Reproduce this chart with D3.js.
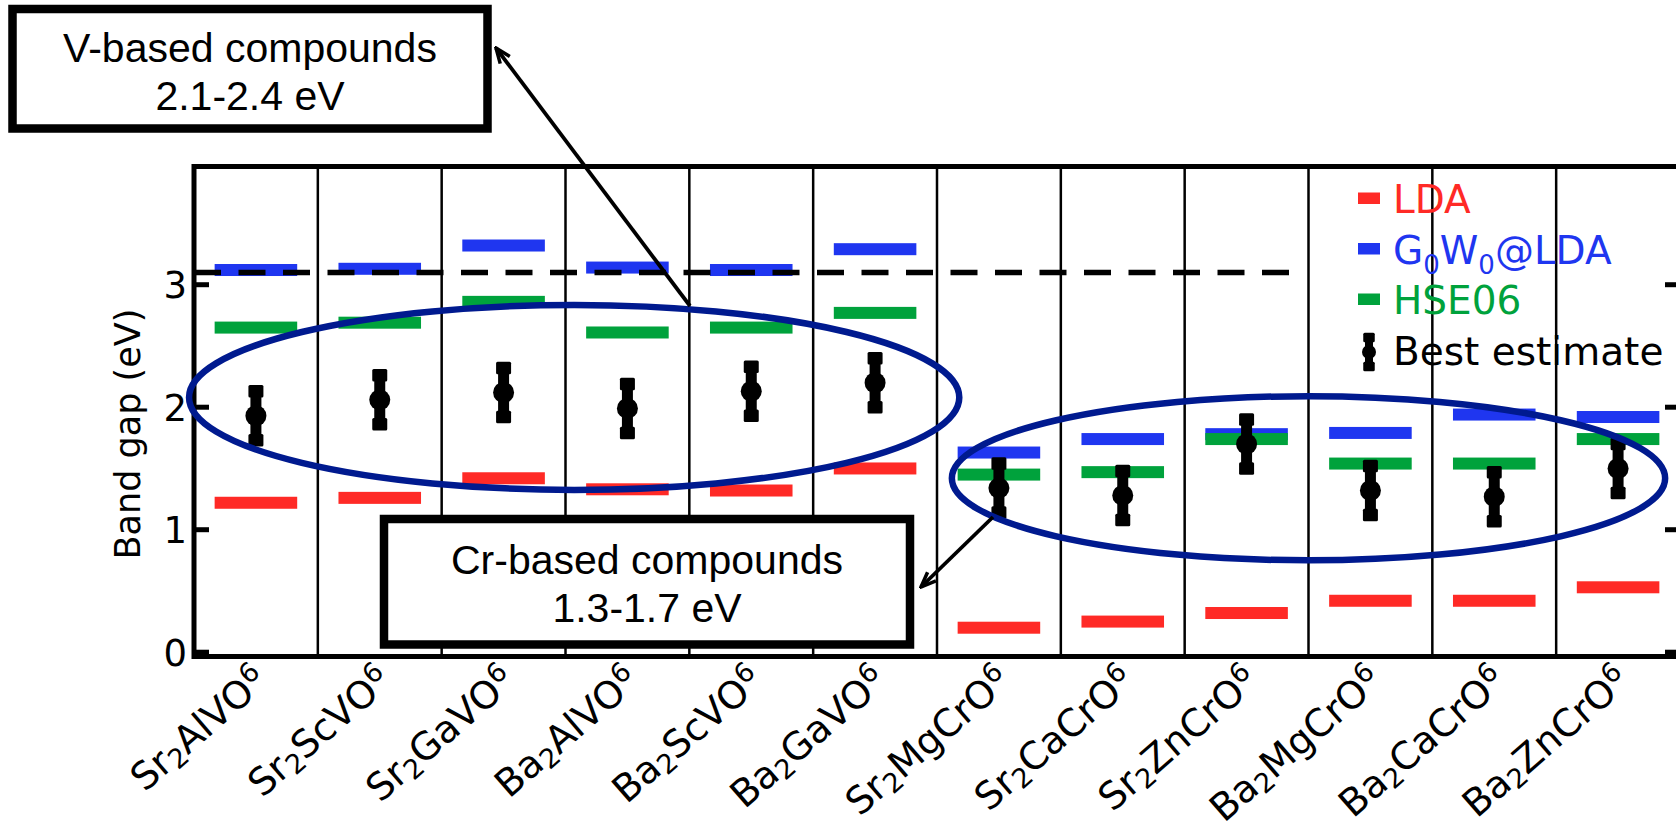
<!DOCTYPE html>
<html>
<head>
<meta charset="utf-8">
<script src="https://cdn.jsdelivr.net/npm/d3@7"></script>
<style>
  html, body { margin: 0; padding: 0; background: #fff; }
  svg { display: block; }
</style>
</head>
<body>
<div id="chart"></div>
<script>
// ---- data ----
var compounds = ["Sr2AlVO6", "Sr2ScVO6", "Sr2GaVO6", "Ba2AlVO6", "Ba2ScVO6", "Ba2GaVO6",
                 "Sr2MgCrO6", "Sr2CaCrO6", "Sr2ZnCrO6", "Ba2MgCrO6", "Ba2CaCrO6", "Ba2ZnCrO6"];
var lda     = [1.22, 1.26, 1.42, 1.33, 1.32, 1.50, 0.20, 0.25, 0.32, 0.42, 0.42, 0.53];
var gw      = [3.12, 3.13, 3.32, 3.14, 3.12, 3.29, 1.63, 1.74, 1.78, 1.79, 1.94, 1.92];
var hse     = [2.65, 2.69, 2.86, 2.61, 2.65, 2.77, 1.45, 1.47, 1.74, 1.54, 1.54, 1.74];
var best    = [1.93, 2.06, 2.12, 1.99, 2.13, 2.20, 1.34, 1.28, 1.70, 1.32, 1.27, 1.50];
var bestErr = [0.20, 0.20, 0.20, 0.20, 0.20, 0.20, 0.20, 0.20, 0.20, 0.20, 0.20, 0.20];
var yTicks = [0, 1, 2, 3];
var refLine = 3.1;

var colors = {lda: "#ff2a26", gw: "#1f36f0", hse: "#00a23c"};

// ---- layout ----
var W = 1676, H = 833;
var plotLeft = 194, plotRight = 1680, plotTop = 166.5, plotBottom = 656.5;
var axisFont = "'DejaVu Sans', sans-serif";
var boxFont = "'Liberation Sans', Arial, sans-serif";

var svg = d3.select("#chart").append("svg")
    .attr("width", W)
    .attr("height", H);

var x = d3.scaleBand().domain(compounds).range([plotLeft, plotRight]).padding(0);
var y = d3.scaleLinear().domain([-0.035, 3.965]).range([plotBottom, plotTop]);
var bw = x.bandwidth();
// position in "band units" (0 = left axis)
function xu(u) { return plotLeft + u * x.step(); }

svg.append("defs").append("marker")
    .attr("id", "head")
    .attr("markerUnits", "userSpaceOnUse")
    .attr("viewBox", "-16 -8 18 16")
    .attr("markerWidth", 18).attr("markerHeight", 16)
    .attr("refX", 0).attr("refY", 0)
    .attr("orient", "auto")
    .append("path")
    .attr("d", "M-15,-6 L0,0 L-15,6")
    .attr("fill", "none")
    .attr("stroke", "#000")
    .attr("stroke-width", 3.5);

// separators between compounds
svg.append("g").selectAll("line")
    .data(compounds.slice(1))
    .enter().append("line")
    .attr("x1", function(d) { return x(d); })
    .attr("x2", function(d) { return x(d); })
    .attr("y1", plotTop)
    .attr("y2", plotBottom)
    .attr("stroke", "#000")
    .attr("stroke-width", 2.5);

// horizontal bars
var barH = 12;
function bars(vals, color) {
  svg.append("g").selectAll("rect")
    .data(vals)
    .enter().append("rect")
    .attr("x", function(d, i) { return x(compounds[i]) + bw / 6; })
    .attr("width", bw * 2 / 3)
    .attr("y", function(d) { return y(d) - barH / 2; })
    .attr("height", barH)
    .attr("fill", color);
}
bars(lda, colors.lda);
bars(gw, colors.gw);
bars(hse, colors.hse);

// dashed reference line
svg.append("line")
    .attr("x1", plotLeft)
    .attr("x2", x(compounds[9]) - 10)
    .attr("y1", y(refLine))
    .attr("y2", y(refLine))
    .attr("stroke", "#000")
    .attr("stroke-width", 5.5)
    .attr("stroke-dasharray", "27,17.5");

// best estimate with error bars
function errorBar(g, cy, top, bottom, lw, capW, capH, r) {
  g.append("line")
    .attr("x1", 0).attr("x2", 0)
    .attr("y1", top).attr("y2", bottom)
    .attr("stroke", "#000")
    .attr("stroke-width", lw);
  [top, bottom].forEach(function(cyc) {
    g.append("rect")
      .attr("x", -capW / 2).attr("width", capW)
      .attr("y", cyc - capH / 2).attr("height", capH)
      .attr("rx", 1.5)
      .attr("fill", "#000");
  });
  g.append("circle").attr("cx", 0).attr("cy", cy).attr("r", r).attr("fill", "#000");
}
best.forEach(function(v, i) {
  var g = svg.append("g")
      .attr("transform", "translate(" + (x(compounds[i]) + bw / 2) + ",0)");
  errorBar(g, y(v), y(v + bestErr[i]), y(v - bestErr[i]), 11, 15, 12.5, 10.5);
});

// frame
svg.append("rect")
    .attr("x", plotLeft).attr("y", plotTop)
    .attr("width", plotRight - plotLeft)
    .attr("height", plotBottom - plotTop)
    .attr("fill", "none")
    .attr("stroke", "#000")
    .attr("stroke-width", 5);

// ticks (inward on both sides)
var tickG = svg.append("g");
yTicks.forEach(function(t) {
  tickG.append("line")
    .attr("x1", plotLeft).attr("x2", plotLeft + 15)
    .attr("y1", y(t)).attr("y2", y(t))
    .attr("stroke", "#000").attr("stroke-width", 5);
  tickG.append("line")
    .attr("x1", plotRight).attr("x2", plotRight - 15)
    .attr("y1", y(t)).attr("y2", y(t))
    .attr("stroke", "#000").attr("stroke-width", 5);
  tickG.append("text")
    .attr("x", plotLeft - 7)
    .attr("y", y(t))
    .attr("dy", "0.36em")
    .attr("text-anchor", "end")
    .style("font-family", axisFont)
    .style("font-size", "37px")
    .text(t);
});

// y label
svg.append("text")
    .attr("transform", "translate(140,434) rotate(-90)")
    .attr("text-anchor", "middle")
    .style("font-family", axisFont)
    .style("font-size", "35px")
    .text("Band gap (eV)");

// x tick labels, rotated, digits small
var xl = svg.append("g");
compounds.forEach(function(c) {
  var t = xl.append("text")
      .attr("transform", "translate(" + (x(c) + bw / 2 + 14) + ",684) rotate(-41)")
      .attr("text-anchor", "end")
      .style("font-family", axisFont)
      .style("font-size", "38px");
  var parts = c.match(/[A-Za-z]+|\d/g);
  var shift = 0;
  parts.forEach(function(p, k) {
    var s = t.append("tspan").text(p);
    var target = 0;
    if (/\d/.test(p)) {
      s.style("font-size", "27px");
      target = (k === 1) ? 5 : -13;
    }
    s.attr("dy", target - shift);
    shift = target;
  });
});

// legend
var lg = svg.append("g");
var legendX = 1358, textX = 1393;
var legendRows = [
  {label: "LDA", color: colors.lda, base: 213},
  {label: "G0W0@LDA", color: colors.gw, base: 263.5},
  {label: "HSE06", color: colors.hse, base: 314}
];
legendRows.forEach(function(r) {
  lg.append("rect")
    .attr("x", legendX).attr("width", 22)
    .attr("y", r.base - 20.5).attr("height", 11.5)
    .attr("fill", r.color);
  var t = lg.append("text")
    .attr("x", textX).attr("y", r.base)
    .attr("fill", r.color)
    .style("font-family", axisFont)
    .style("font-size", "39px");
  if (r.label === "G0W0@LDA") {
    t.append("tspan").text("G");
    t.append("tspan").text("0").attr("dy", 10).style("font-size", "26px");
    t.append("tspan").text("W").attr("dy", -10);
    t.append("tspan").text("0").attr("dy", 10).style("font-size", "26px");
    t.append("tspan").text("@LDA").attr("dy", -10);
  } else {
    t.text(r.label);
  }
});
var lgEb = lg.append("g").attr("transform", "translate(1369,0)");
errorBar(lgEb, 352, 337.5, 366.5, 8, 11.5, 9.5, 7);
lg.append("text")
    .attr("x", textX).attr("y", 365)
    .attr("fill", "#000")
    .style("font-family", axisFont)
    .style("font-size", "39px")
    .text("Best estimate");

// ellipses grouping the two families (in band units / eV)
var groups = [
  {cx: 3.07, cy: 2.08, rx: 3.11, ry: 0.755},
  {cx: 9.0, cy: 1.42, rx: 2.88, ry: 0.67}
];
svg.append("g").selectAll("ellipse")
    .data(groups)
    .enter().append("ellipse")
    .attr("cx", function(d) { return xu(d.cx); })
    .attr("cy", function(d) { return y(d.cy); })
    .attr("rx", function(d) { return d.rx * x.step(); })
    .attr("ry", function(d) { return y(0) - y(d.ry); })
    .attr("fill", "none")
    .attr("stroke", "#001a8f")
    .attr("stroke-width", 6.5);

// annotation boxes
var boxes = [
  {x0: 12.5, y0: 9, w: 475, h: 119.5, lines: ["V-based compounds", "2.1-2.4 eV"], base: 61.5},
  {x0: 384, y0: 519, w: 526, h: 125.5, lines: ["Cr-based compounds", "1.3-1.7 eV"], base: 573.5}
];
boxes.forEach(function(b) {
  svg.append("rect")
    .attr("x", b.x0).attr("y", b.y0)
    .attr("width", b.w).attr("height", b.h)
    .attr("fill", "#fff")
    .attr("stroke", "#000")
    .attr("stroke-width", 8.5);
  b.lines.forEach(function(l, k) {
    svg.append("text")
      .attr("x", b.x0 + b.w / 2)
      .attr("y", b.base + k * 48.5)
      .attr("text-anchor", "middle")
      .style("font-family", boxFont)
      .style("font-size", "41px")
      .text(l);
  });
});

// arrows from ellipses to boxes
var arrows = [
  {from: [690, 306], to: [496, 48]},
  {from: [993, 517], to: [921, 587]}
];
svg.append("g").selectAll("line")
    .data(arrows)
    .enter().append("line")
    .attr("x1", function(d) { return d.from[0]; })
    .attr("y1", function(d) { return d.from[1]; })
    .attr("x2", function(d) { return d.to[0]; })
    .attr("y2", function(d) { return d.to[1]; })
    .attr("stroke", "#000")
    .attr("stroke-width", 3.8)
    .attr("marker-end", "url(#head)");
</script>
</body>
</html>
